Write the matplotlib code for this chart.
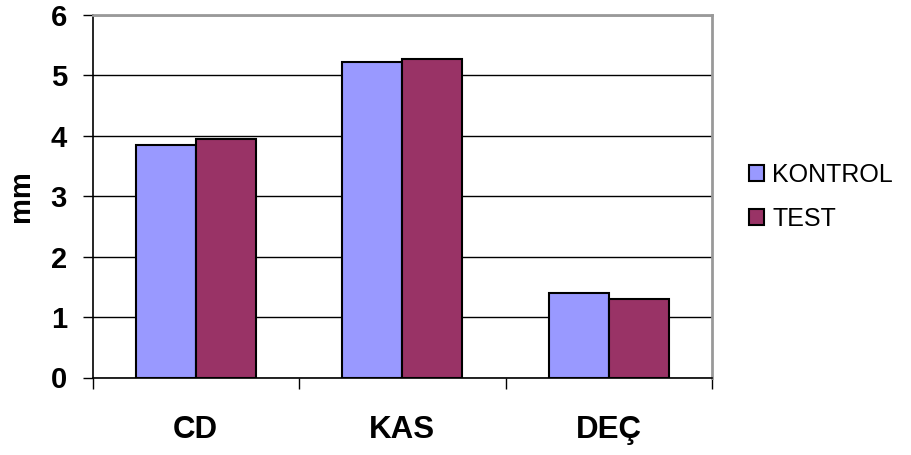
import numpy as np
import matplotlib.pyplot as plt
from matplotlib.patches import Patch

plt.rcParams['font.family'] = ['Liberation Sans', 'DejaVu Sans']

### Data
categories = ['CD', 'KAS', 'DEÇ']
kontrol = [3.85, 5.23, 1.40]
test = [3.95, 5.27, 1.30]
series_names = ['KONTROL', 'TEST']
colors = ['#9999FF', '#993366']

fig = plt.figure(figsize=(9.11, 4.55), dpi=100)
ax = fig.add_axes([92.5/911, 1 - 377.5/455, 619.5/911, 362.5/455])

x = np.arange(len(categories))
w = 0.29
ax.bar(x - w/2, kontrol, w, color=colors[0], edgecolor='black', linewidth=1.5, zorder=3)
ax.bar(x + w/2, test, w, color=colors[1], edgecolor='black', linewidth=1.5, zorder=3)

### Axes and grid
ax.set_xlim(-0.5, 2.5)
ax.set_ylim(0, 6)
ax.set_yticks(range(7))
ax.set_yticklabels([str(i) for i in range(7)], fontsize=21, fontweight='bold')
ax.yaxis.grid(True, color='black', linewidth=1, zorder=0)
ax.set_xticks([-0.5, 0.5, 1.5, 2.5])
ax.set_xticklabels([])
ax.set_xticks(x, minor=True)
ax.set_xticklabels(categories, minor=True, fontsize=22.5, fontweight='bold')
ax.tick_params(axis='x', which='minor', length=0, pad=27)
ax.tick_params(axis='x', which='major', length=8, width=1)
ax.tick_params(axis='y', length=7.5, width=1, pad=11)
ax.set_ylabel('mm', fontsize=21, fontweight='bold', va='center')
ax.yaxis.set_label_coords(-0.116, 0.5)

for s in ['left', 'bottom']:
    ax.spines[s].set_color('black')
    ax.spines[s].set_linewidth(1.2)
for s in ['top', 'right']:
    ax.spines[s].set_color('#999999')
    ax.spines[s].set_linewidth(2)

### Legend
handles = [Patch(facecolor=c, edgecolor='black', linewidth=1.5) for c in colors]
fig.legend(handles, series_names, loc='upper left', bbox_to_anchor=(726/911, 1 - 140/455),
           frameon=False, fontsize=18, handlelength=0.6, handleheight=0.6,
           handletextpad=0.35, labelspacing=0.8)

plt.savefig('out.png', dpi=100)
